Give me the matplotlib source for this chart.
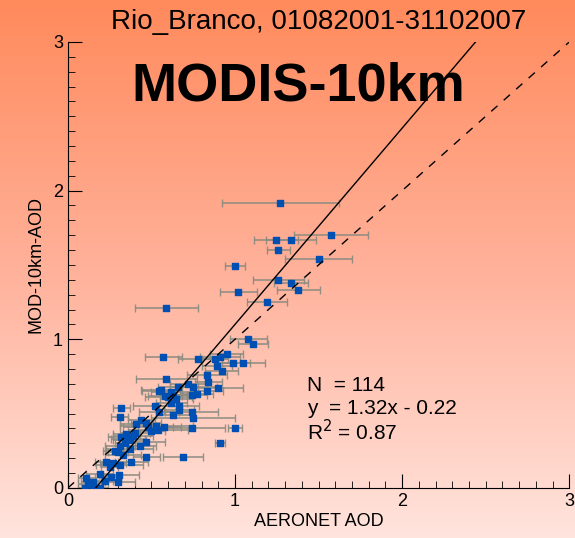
import numpy as np
import matplotlib
matplotlib.use("Agg")
import matplotlib.pyplot as plt
from matplotlib.colors import LinearSegmentedColormap

plt.rcParams['font.family'] = ['Liberation Sans', 'DejaVu Sans']

aeronet = [1.27,1.575,1.245,1.335,1.26,1.50,1.0,1.26,1.335,1.02,1.38,1.19,0.59,1.08,1.11,0.57,0.78,0.95,0.88,0.91,0.99,1.05,0.89,
           0.92,0.83,0.84,0.90,0.83,0.59,0.66,0.545,0.56,0.72,0.75,0.74,0.77,0.62,0.63,0.60,0.65,0.665,0.665,0.74,0.75,0.63,0.52,
           0.32,0.31,0.545,0.41,0.47,0.48,0.53,0.575,0.54,0.50,0.74,1.0,0.91,0.32,0.39,0.37,0.34,0.31,0.43,0.37,0.47,0.30,0.47,
           0.69,0.38,0.23,0.27,0.25,0.31,0.19,0.305,0.11,0.15,0.26,0.22,0.30,0.12,0.10,0.15,0.19,0.35,0.36,0.40,0.28,0.33,0.44,0.58,0.62]
modis = [1.92,1.70,1.67,1.67,1.60,1.54,1.49,1.40,1.38,1.32,1.33,1.25,1.21,1.00,0.97,0.88,0.87,0.90,0.87,0.88,0.84,0.84,0.82,
         0.79,0.76,0.71,0.67,0.65,0.73,0.68,0.65,0.66,0.70,0.68,0.625,0.63,0.645,0.625,0.61,0.60,0.55,0.525,0.51,0.47,0.49,0.55,
         0.54,0.48,0.51,0.43,0.44,0.41,0.42,0.41,0.39,0.38,0.40,0.40,0.30,0.34,0.35,0.32,0.30,0.28,0.28,0.26,0.31,0.24,0.21,
         0.21,0.175,0.175,0.17,0.14,0.155,0.095,0.09,0.07,0.04,0.075,0.05,0.04,0.03,0.0,0.01,0.0,0.36,0.33,0.37,0.25,0.22,0.46,0.62,0.57]
xerr = [0.35,0.22,0.13,0.15,0.07,0.20,0.06,0.15,0.10,0.11,0.13,0.12,0.19,0.11,0.09,0.11,0.12,0.10,0.08,0.12,0.10,0.13,0.09,
        0.10,0.12,0.08,0.15,0.10,0.18,0.12,0.10,0.12,0.11,0.14,0.09,0.10,0.12,0.08,0.14,0.10,0.12,0.09,0.16,0.25,0.10,0.13,
        0.05,0.05,0.12,0.10,0.09,0.15,0.22,0.10,0.18,0.08,0.20,0.04,0.03,0.08,0.12,0.10,0.06,0.09,0.10,0.14,0.11,0.06,0.08,
        0.12,0.10,0.07,0.08,0.05,0.14,0.08,0.12,0.05,0.07,0.06,0.05,0.10,0.06,0.04,0.05,0.05,0.08,0.10,0.09,0.07,0.11,0.08,0.10,0.09]
slope, intercept = 1.32, -0.22
stats = ["N  = 114", "y  = 1.32x - 0.22", "R$^2$ = 0.87"]

fig = plt.figure(figsize=(5.75, 5.38), dpi=100)
bg = fig.add_axes([0, 0, 1, 1], zorder=-10)
cmap = LinearSegmentedColormap.from_list("bg", ["#ff8a5c", "#ffb19a", "#ffe4dd"])
bg.imshow(np.linspace(0, 1, 256)[:, None], aspect="auto", cmap=cmap, extent=[0, 1, 0, 1])
bg.axis("off")

ax = fig.add_axes([0.118, 0.093, 0.872, 0.829])
ax.set_facecolor("none")
ax.errorbar(aeronet, modis, xerr=xerr, fmt="none", ecolor="#8a8a80", elinewidth=1.2, capsize=3, alpha=0.9, zorder=2)
ax.scatter(aeronet, modis, marker="s", s=22, color="#0050b4", zorder=3)
xs = np.array([0, 3])
ax.plot(xs, slope * xs + intercept, color="black", lw=1, zorder=4)
ax.plot(xs, xs, color="black", lw=1, ls=(0, (6, 6)), zorder=4)
ax.set_xlim(0, 3); ax.set_ylim(0, 3)
ax.spines["top"].set_visible(False); ax.spines["right"].set_visible(False)
ax.set_xticks([0, 1, 2, 3]); ax.set_yticks([0, 1, 2, 3])
ax.set_xticks(np.arange(0, 3.01, 0.1), minor=True); ax.set_yticks(np.arange(0, 3.01, 0.1), minor=True)
ax.tick_params(which="both", direction="in", labelsize=13, top=False, right=False)
ax.tick_params(which="major", length=10)
ax.tick_params(which="minor", length=5)
ax.set_xlabel("AERONET AOD", fontsize=13, labelpad=2)
ax.set_ylabel("MOD-10km-AOD", fontsize=13, labelpad=6)
ax.text(0.5, 1.015, "Rio_Branco, 01082001-31102007", transform=ax.transAxes, ha="center", va="bottom", fontsize=20)
ax.text(0.46, 0.9, "MODIS-10km", transform=ax.transAxes, ha="center", va="center", fontsize=39, fontweight="bold")
for i, s in enumerate(stats):
    ax.text(1.43, 0.69 - i * 0.155, s, fontsize=15, va="center")
fig.savefig("out.png", dpi=100)
